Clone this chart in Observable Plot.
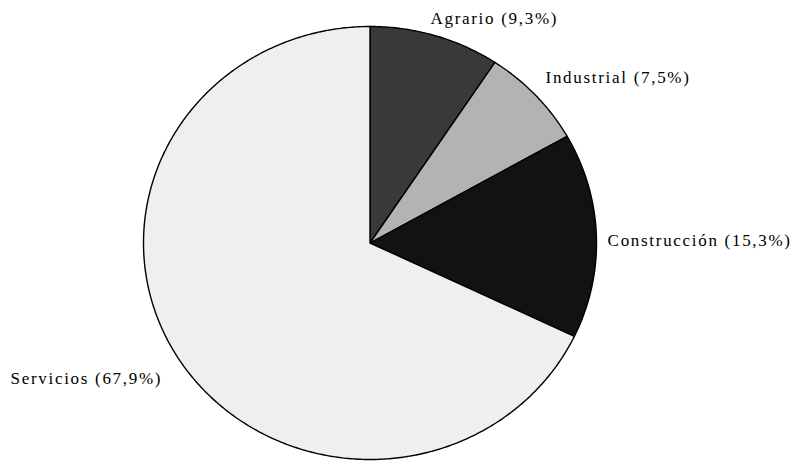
<!DOCTYPE html>
<html>
<head>
<meta charset="utf-8">
<script src="https://cdn.jsdelivr.net/npm/d3@7"></script>
<script src="https://cdn.jsdelivr.net/npm/@observablehq/plot@0.6"></script>
<style>
  html, body { margin: 0; padding: 0; background: #fff; }
  #chart svg { display: block; }
</style>
</head>
<body>
<div id="chart"></div>
<script>
// Data
const sectors = ["Agrario", "Industrial", "Construcción", "Servicios"];
const shares = [9.3, 7.5, 15.3, 67.9];
const labels = ["Agrario (9,3%)", "Industrial (7,5%)", "Construcción (15,3%)", "Servicios (67,9%)"];
const colors = ["#393939", "#b3b3b3", "#121212", "#efefef"];

// Layout (label anchor positions in unit-circle coordinates)
const labelPos = [[0.267, 1.037], [0.775, 0.764], [1.049, 0.012], [-1.587, -0.626]];

const total = d3.sum(shares);
let acc = 0;
const slices = sectors.map((s, i) => {
  const a0 = acc / total * 2 * Math.PI;
  acc += shares[i];
  const a1 = acc / total * 2 * Math.PI;
  const n = Math.max(2, Math.ceil((a1 - a0) / 0.01));
  const pts = [{x: 0, y: 0}];
  for (let k = 0; k <= n; k++) {
    const a = a0 + (a1 - a0) * k / n;
    pts.push({x: Math.sin(a), y: Math.cos(a)});
  }
  pts.push({x: 0, y: 0});
  return {sector: s, color: colors[i], pts};
});

const labelData = labels.map((t, i) => ({text: t, x: labelPos[i][0], y: labelPos[i][1]}));

const plot = Plot.plot({
  width: 794,
  height: 461,
  margin: 0,
  x: {domain: [-1, 1], range: [143, 596], axis: null},
  y: {domain: [-1, 1], range: [459, 26], axis: null},
  style: {background: "#fff"},
  marks: [
    ...slices.map(s => Plot.line(s.pts, {x: "x", y: "y", fill: s.color, stroke: "#000", strokeWidth: 1.4, curve: "linear"})),
    Plot.text(labelData, {x: "x", y: "y", text: "text", textAnchor: "start", fontSize: 17, fill: "#000",
      fontFamily: "Liberation Serif, Times New Roman, serif"})
  ]
});
plot.querySelectorAll("text").forEach(t => t.style.letterSpacing = "1.7px");
document.getElementById("chart").appendChild(plot);
</script>
</body>
</html>
